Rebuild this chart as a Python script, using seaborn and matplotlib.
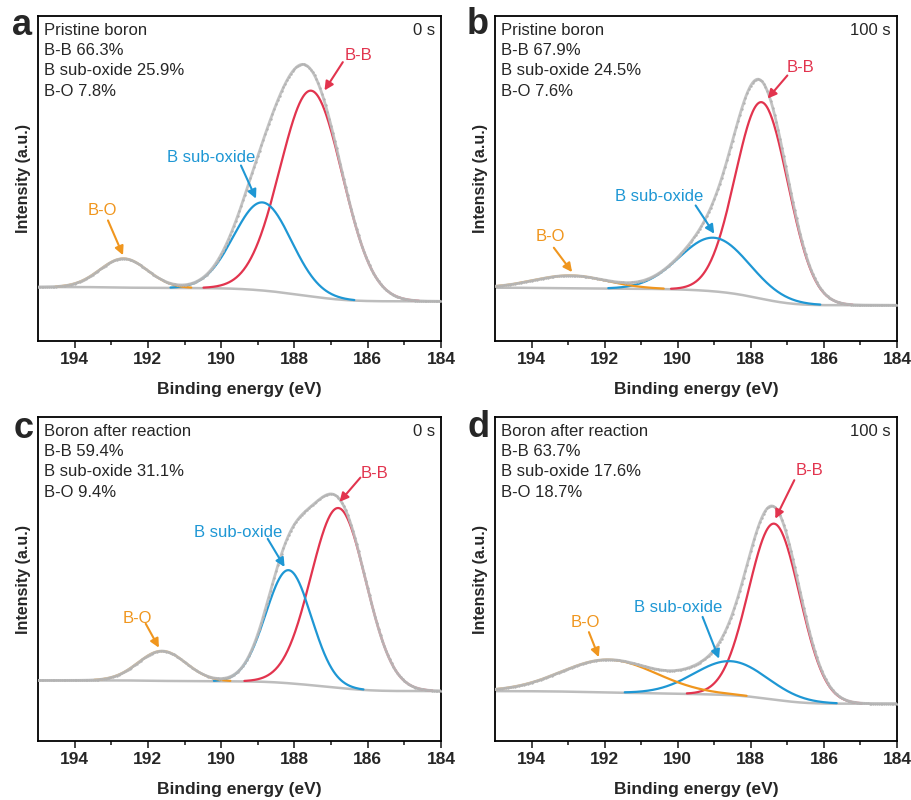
import numpy as np
import pandas as pd
import matplotlib
matplotlib.use("Agg")
import matplotlib.pyplot as plt
import seaborn as sns
from math import erf

# ---------------- data ----------------
panel_letters = ["a", "b", "c", "d"]
sample_names = ["Pristine boron", "Pristine boron", "Boron after reaction", "Boron after reaction"]
etch_times = ["0 s", "100 s", "0 s", "100 s"]

# fitted fractions (%)
bb_pct = [66.3, 67.9, 59.4, 63.7]
sub_pct = [25.9, 24.5, 31.1, 17.6]
bo_pct = [7.8, 7.6, 9.4, 18.7]

# peak centres (eV)
bb_center = [187.54, 187.70, 186.80, 187.36]
sub_center = [188.87, 189.00, 188.16, 188.55]
bo_center = [192.66, 192.93, 191.61, 191.88]

# peak heights above background (a.u.)
bb_height = [63.3, 60.5, 55.5, 54.3]
sub_height = [27.1, 16.5, 34.9, 10.5]
bo_height = [8.9, 3.9, 9.2, 10.1]

# gaussian widths (eV)
bb_sigma = [0.85, 0.72, 0.75, 0.70]
sub_sigma = [0.78, 0.95, 0.62, 1.00]
bo_sigma = [0.65, 1.00, 0.65, 1.30]

# background level at the high / low binding-energy ends (a.u.)
bg_high = [16.6, 16.4, 18.7, 15.4]
bg_low = [12.2, 11.0, 15.4, 11.5]

x_ticks = [194, 192, 190, 188, 186, 184]
x_minor = [193, 191, 189, 187, 185]

# ---------------- layout / style ----------------
RED = "#E2344E"
BLUE = "#1E97D4"
ORANGE = "#F0961E"
GRAY = "#BDBDBD"

axes_rect = [
    [38 / 912, 1 - 341 / 800, 403 / 912, 325 / 800],
    [495 / 912, 1 - 341 / 800, 402 / 912, 325 / 800],
    [38 / 912, 1 - 741 / 800, 403 / 912, 324 / 800],
    [495 / 912, 1 - 741 / 800, 402 / 912, 324 / 800],
]
letter_pos = [(22.5, 35), (478, 34), (24, 438), (478.5, 437)]

# label position, arrow tail, arrow head for B-B / B sub-oxide / B-O
callouts = [
    [((186.26, 87.9), (186.68, 85.8), (187.18, 77.1)),
     ((190.28, 56.6), (189.46, 54.0), (189.05, 43.8)),
     ((193.25, 40.2), (193.09, 37.1), (192.68, 26.4))],
    [((186.63, 84.3), (187.00, 81.7), (187.54, 74.6)),
     ((190.51, 44.5), (189.51, 41.7), (189.00, 33.0)),
     ((193.48, 32.2), (193.39, 28.7), (192.89, 21.2))],
    [((185.81, 82.7), (186.20, 81.3), (186.77, 73.8)),
     ((189.55, 64.2), (188.73, 62.4), (188.27, 53.7)),
     ((192.29, 37.8), (192.06, 36.2), (191.70, 28.8))],
    [((186.40, 83.5), (186.81, 80.5), (187.33, 68.6)),
     ((189.98, 41.2), (189.32, 38.3), (188.87, 25.4)),
     ((192.52, 36.7), (192.43, 33.6), (192.16, 25.9))],
]

sns.set_style("ticks")
plt.rcParams["font.family"] = ["Liberation Sans", "DejaVu Sans"]
plt.rcParams["axes.linewidth"] = 1.3

energy = np.linspace(184.0, 195.0, 661)
_erf = np.vectorize(erf)


def gauss(e, c, h, s):
    return h * np.exp(-0.5 * ((e - c) / s) ** 2)


def cdf(e, c, s):
    return 0.5 * (1 + _erf((e - c) / (s * np.sqrt(2))))


fig = plt.figure(figsize=(9.12, 8), dpi=100)

for i in range(4):
    ax = fig.add_axes(axes_rect[i])
    peaks = [
        (bb_center[i], bb_height[i], bb_sigma[i], RED),
        (sub_center[i], sub_height[i], sub_sigma[i], BLUE),
        (bo_center[i], bo_height[i], bo_sigma[i], ORANGE),
    ]
    # Shirley-type step background following the cumulative peak area
    areas = np.array([h * s for _, h, s, _ in peaks])
    frac = sum(a * cdf(energy, c, s) for a, (c, h, s, _) in zip(areas, peaks)) / areas.sum()
    background = bg_low[i] + (bg_high[i] - bg_low[i]) * frac

    comps = [gauss(energy, c, h, s) for c, h, s, _ in peaks]
    envelope = background + sum(comps)

    sns.lineplot(x=energy, y=background, ax=ax, color=GRAY, lw=1.8,
                 sort=False, estimator=None, zorder=2)
    for (c, h, s, col), comp in zip(peaks, comps):
        mask = comp > 0.15
        sns.lineplot(x=energy[mask], y=(background + comp)[mask], ax=ax, color=col,
                     lw=1.6, sort=False, estimator=None, zorder=3)
    sns.lineplot(x=energy, y=envelope, ax=ax, color=GRAY, lw=2.0, alpha=0.9,
                 sort=False, estimator=None, zorder=4)
    sns.scatterplot(x=energy[::3], y=envelope[::3], ax=ax, color="#B3B3B3", s=3,
                    edgecolor=None, linewidth=0, zorder=5)

    # callouts
    for (lab_xy, tail, head), text, col in zip(callouts[i],
                                              ["B-B", "B sub-oxide", "B-O"],
                                              [RED, BLUE, ORANGE]):
        ax.text(lab_xy[0], lab_xy[1], text, color=col, fontsize=12,
                ha="center", va="center", zorder=6)
        ax.annotate("", xy=head, xytext=tail,
                    arrowprops=dict(arrowstyle="-|>", color=col, lw=1.5,
                                    mutation_scale=13, shrinkA=0, shrinkB=0),
                    zorder=6)

    info = (f"{sample_names[i]}\nB-B {bb_pct[i]}%\n"
            f"B sub-oxide {sub_pct[i]}%\nB-O {bo_pct[i]}%")
    ax.text(0.015, 0.978, info, transform=ax.transAxes, ha="left", va="top",
            fontsize=12, linespacing=1.43)
    ax.text(0.985, 0.978, etch_times[i], transform=ax.transAxes, ha="right",
            va="top", fontsize=12)

    ax.set_xlim(195, 184)
    ax.set_ylim(0, 100)
    ax.set_xticks(x_ticks)
    ax.set_xticks(x_minor, minor=True)
    ax.set_xticklabels([str(t) for t in x_ticks], fontweight="bold", fontsize=12.5)
    ax.set_yticks([])
    ax.tick_params(axis="x", which="major", direction="out", length=5, width=1.2, pad=3)
    ax.tick_params(axis="x", which="minor", direction="out", length=3, width=1.2)
    ax.set_xlabel("Binding energy (eV)", fontweight="bold", fontsize=12.5, labelpad=11)
    ax.set_ylabel("Intensity (a.u.)", fontweight="bold", fontsize=11.5, labelpad=5)
    for sp in ax.spines.values():
        sp.set_visible(True)
        sp.set_color("black")
        sp.set_linewidth(1.3)

    fig.text(letter_pos[i][0] / 912, 1 - letter_pos[i][1] / 800, panel_letters[i],
             fontsize=26, fontweight="bold", ha="center", va="baseline")

fig.savefig("out.png", dpi=100)
